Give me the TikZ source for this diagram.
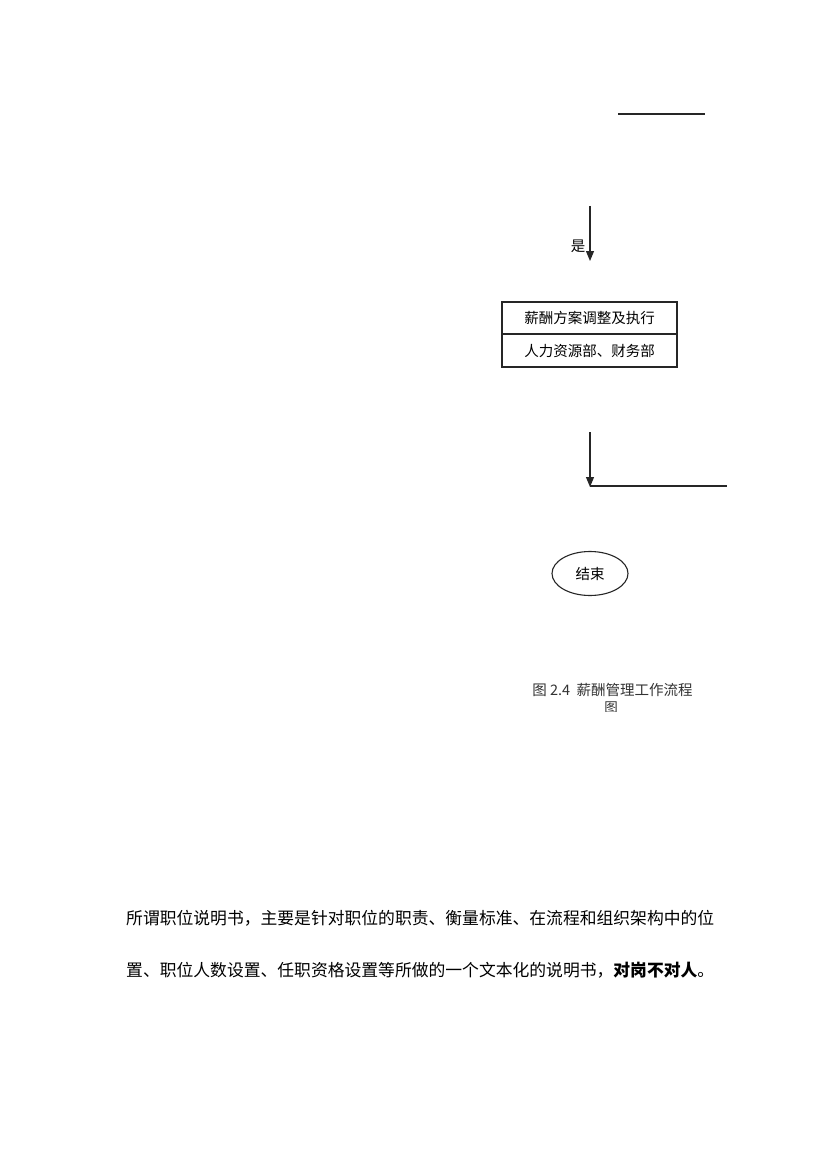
\documentclass[tikz,border=0pt]{standalone}
\usepackage{fontspec}
\setmainfont{Noto Sans CJK SC}
\newfontfamily\cjk{Noto Sans CJK SC}
\usetikzlibrary{arrows.meta,shapes.geometric}
\begin{document}
\begin{tikzpicture}[x=1pt,y=-1pt,
  ln/.style={line width=1.1pt,draw=black!85},
  arr/.style={ln,-{Triangle[width=8pt,length=10pt]}},
  lbl/.style={inner sep=0pt,font=\cjk\fontsize{14.5}{16}\selectfont},
  body/.style={inner sep=0pt,anchor=west,font=\cjk\fontsize{16.8}{20}\selectfont}]
\useasboundingbox[fill=white] (0,0) rectangle (830,1174);
% top line
\coordinate (t1) at (618,114);
\coordinate (t2) at (705,114);
\draw[ln] (t1) -- (t2);
% arrow yes
\coordinate (a1) at (590,206);
\coordinate (a2) at (590,261);
\draw[arr] (a1) -- (a2);
\node[lbl] (yes) at (578,246) {是};
% box
\draw[ln] (502,302) rectangle (677,367);
\draw[ln] (502,334) -- (677,334);
\node[lbl] (b1) at (589.5,318) {薪酬方案调整及执行};
\node[lbl] (b2) at (589.5,350.5) {人力资源部、财务部};
% arrow 2
\coordinate (c1) at (590,432);
\coordinate (c2) at (590,487);
\coordinate (c3) at (727,486);
\draw[arr] (c1) -- (c2);
\draw[ln] (590,486) -- (c3);
% end ellipse
\node[ellipse,ln,minimum width=76pt,minimum height=44pt,inner sep=0pt,font=\cjk\fontsize{14.5}{16}\selectfont] (end) at (590,573.5) {结束};
% caption
\node[lbl,font=\cjk\fontsize{14.5}{16}\selectfont,text=black!80] (cap) at (612.5,690) {图 2.4\ \ 薪酬管理工作流程};
\begin{scope}
\clip (560,699) rectangle (660,711.5);
\node[lbl,font=\cjk\fontsize{13.5}{16}\selectfont,text=black!80] (cap2) at (611,708) {图};
\end{scope}
% body text
\node[body] (p1) at (126,918) {所谓职位说明书，主要是针对职位的职责、衡量标准、在流程和组织架构中的位};
\node[body] (p2) at (126,970) {置、职位人数设置、任职资格设置等所做的一个文本化的说明书，{\bfseries 对岗不对人}。};
\end{tikzpicture}
\end{document}
